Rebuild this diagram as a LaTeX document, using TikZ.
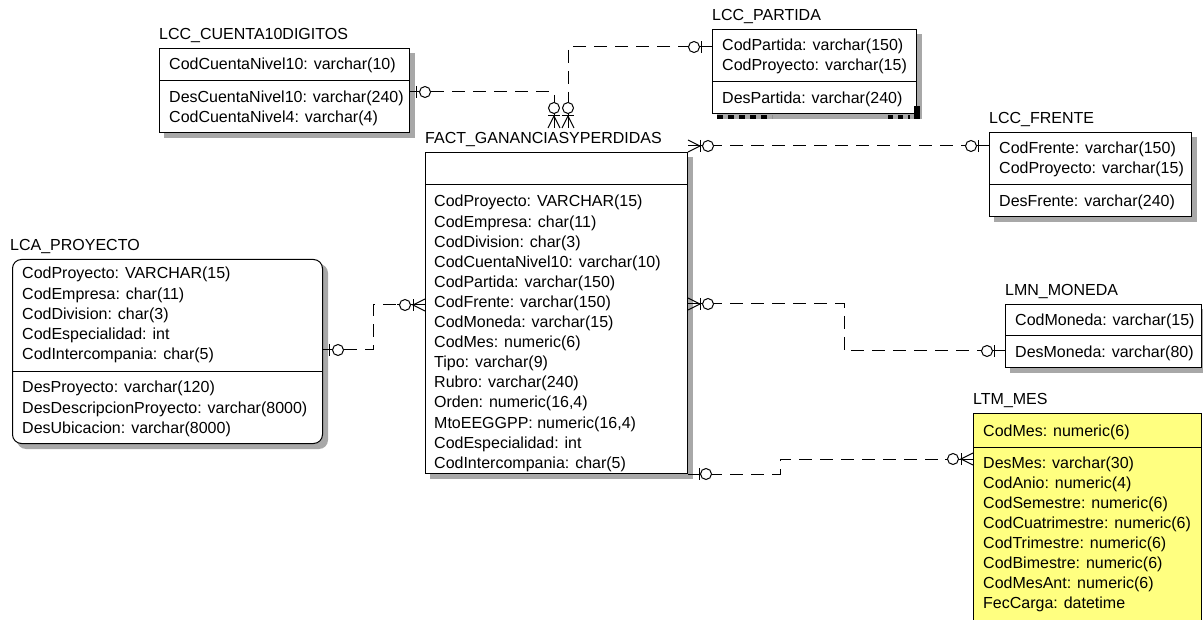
\documentclass[tikz,border=0pt]{standalone}
\usepackage{fontspec}
\usetikzlibrary{calc,backgrounds}
\newfontfamily\erfam{Liberation Sans}
\newcommand\erfont{\erfam\fontsize{16}{18}\selectfont}
\definecolor{mesyellow}{RGB}{255,255,128}
\definecolor{shadowgray}{RGB}{168,168,168}
\tikzset{
  ent/.style={draw=black, line width=1pt, fill=white, inner sep=0pt, anchor=north west},
  entplain/.style={draw=black, line width=1pt, inner sep=0pt, anchor=north west},
  shadowbox/.style={fill=shadowgray},
  txt/.style={anchor=base west, inner sep=0pt, font=\erfont, text=black},
  ttl/.style={anchor=base west, inner sep=0pt, font=\erfont, text=black},
  divider/.style={line width=1pt},
  conn/.style={line width=1pt, dash pattern=on 13pt off 8pt},
  pics/onezero/.style={code={
    \draw[line width=1pt, solid] (0,0) -- (27,0);
    \draw[line width=1pt, solid] (11,-6) -- (11,6);
    \draw[line width=1pt, solid, fill=white] (18,0) circle[radius=5.5pt];
  }},
  pics/onezeronear/.style={code={
    \draw[line width=1pt, solid] (0,0) -- (24,0);
    \draw[line width=1pt, solid] (6,-6) -- (6,6);
    \draw[line width=1pt, solid, fill=white] (15,0) circle[radius=5.5pt];
  }},
  pics/manyzero/.style={code={
    \draw[line width=1pt, solid] (0,0) -- (28,0);
    \draw[line width=1pt, solid] (0,-6) -- (12,0) -- (0,6);
    \draw[line width=1pt, solid] (12,-6) -- (12,6);
    \draw[line width=1pt, solid, fill=white] (20,0) circle[radius=5.5pt];
  }}
}
\begin{document}
\begin{tikzpicture}[x=1pt,y=-1pt]
\useasboundingbox (0,0) rectangle (1203,620);

% ---------------- LCC_CUENTA10DIGITOS
\node[ent, minimum width=250pt, minimum height=84pt] (cuenta) at (159,48) {};
\draw[divider] ($(cuenta.north west)+(0,33)$) -- ($(cuenta.north east)+(0,33)$);
\node[ttl] (cuenta-t) at ($(cuenta.north west)+(0,-8)$) {LCC\_CUENTA10DIGITOS};
\node[txt] (cuenta-1) at ($(cuenta.north west)+(10,22)$) {CodCuentaNivel10: varchar(10)};
\node[txt] (cuenta-2) at ($(cuenta.north west)+(10,55)$) {DesCuentaNivel10: varchar(240)};
\node[txt] (cuenta-3) at ($(cuenta.north west)+(10,75)$) {CodCuentaNivel4: varchar(4)};

% ---------------- LCC_PARTIDA
\node[ent, minimum width=204pt, minimum height=84pt] (partida) at (712,29) {};
\draw[divider] ($(partida.north west)+(0,53)$) -- ($(partida.north east)+(0,53)$);
\node[ttl] (partida-t) at ($(partida.north west)+(0,-8)$) {LCC\_PARTIDA};
\node[txt] (partida-1) at ($(partida.north west)+(10,22)$) {CodPartida: varchar(150)};
\node[txt] (partida-2) at ($(partida.north west)+(10,42)$) {CodProyecto: varchar(15)};
\node[txt] (partida-3) at ($(partida.north west)+(10,75)$) {DesPartida: varchar(240)};
\draw[line width=4pt, dash pattern=on 6pt off 5pt] (717,117) -- (772,117);
\draw[line width=4pt, dash pattern=on 5pt off 5pt] (888,117) -- (910,117);
\fill (914,106) rectangle (920,119);

% ---------------- LCC_FRENTE
\node[ent, minimum width=202pt, minimum height=84pt] (frente) at (989,132) {};
\draw[divider] ($(frente.north west)+(0,53)$) -- ($(frente.north east)+(0,53)$);
\node[ttl] (frente-t) at ($(frente.north west)+(0,-8)$) {LCC\_FRENTE};
\node[txt] (frente-1) at ($(frente.north west)+(10,22)$) {CodFrente: varchar(150)};
\node[txt] (frente-2) at ($(frente.north west)+(10,42)$) {CodProyecto: varchar(15)};
\node[txt] (frente-3) at ($(frente.north west)+(10,75)$) {DesFrente: varchar(240)};

% ---------------- LCA_PROYECTO
\node[ent, rounded corners=9pt, minimum width=310pt, minimum height=184pt] (proyecto) at (12,259) {};
\draw[divider] ($(proyecto.north west)+(0,113)$) -- ($(proyecto.north east)+(0,113)$);
\node[ttl] (proyecto-t) at ($(proyecto.north west)+(-2,-8)$) {LCA\_PROYECTO};
\foreach \t [count=\i from 0] in {CodProyecto: VARCHAR(15), CodEmpresa: char(11), CodDivision: char(3), CodEspecialidad: int, CodIntercompania: char(5)}
  \node[txt] (proyecto-a\i) at ($(proyecto.north west)+(10,20+20.2*\i)$) {\t};
\foreach \t [count=\i from 0] in {DesProyecto: varchar(120), DesDescripcionProyecto: varchar(8000), DesUbicacion: varchar(8000)}
  \node[txt] (proyecto-b\i) at ($(proyecto.north west)+(10,134+20.2*\i)$) {\t};

% ---------------- FACT_GANANCIASYPERDIDAS
\node[ent, minimum width=262pt, minimum height=321pt] (fact) at (425,152) {};
\draw[divider] ($(fact.north west)+(0,33)$) -- ($(fact.north east)+(0,33)$);
\node[ttl] (fact-t) at ($(fact.north west)+(0,-8)$) {FACT\_GANANCIASYPERDIDAS};
\foreach \t [count=\i from 0] in {CodProyecto: VARCHAR(15), CodEmpresa: char(11), CodDivision: char(3),
  CodCuentaNivel10: varchar(10), CodPartida: varchar(150), CodFrente: varchar(150), CodMoneda: varchar(15),
  CodMes: numeric(6), Tipo: varchar(9), Rubro: varchar(240), {Orden: numeric(16,4)}, {MtoEEGGPP: numeric(16,4)},
  CodEspecialidad: int, CodIntercompania: char(5)}
  \node[txt] (fact-r\i) at ($(fact.north west)+(9,55+20.1*\i)$) {\t};

% ---------------- LMN_MONEDA
\node[ent, minimum width=196pt, minimum height=63pt] (moneda) at (1005,304) {};
\draw[divider] ($(moneda.north west)+(0,32)$) -- ($(moneda.north east)+(0,32)$);
\node[ttl] (moneda-t) at ($(moneda.north west)+(0,-8)$) {LMN\_MONEDA};
\node[txt] (moneda-1) at ($(moneda.north west)+(10,22)$) {CodMoneda: varchar(15)};
\node[txt] (moneda-2) at ($(moneda.north west)+(10,54)$) {DesMoneda: varchar(80)};

% ---------------- LTM_MES
\node[entplain, fill=mesyellow, minimum width=228pt, minimum height=210pt] (mes) at (973,413) {};
\draw[divider] ($(mes.north west)+(0,34)$) -- ($(mes.north east)+(0,34)$);
\node[ttl] (mes-t) at ($(mes.north west)+(0,-8)$) {LTM\_MES};
\node[txt] (mes-0) at ($(mes.north west)+(10,23)$) {CodMes: numeric(6)};
\foreach \t [count=\i from 0] in {DesMes: varchar(30), CodAnio: numeric(4), CodSemestre: numeric(6),
  CodCuatrimestre: numeric(6), CodTrimestre: numeric(6), CodBimestre: numeric(6), CodMesAnt: numeric(6),
  FecCarga: datetime}
  \node[txt] (mes-r\i) at ($(mes.north west)+(10,55+20.1*\i)$) {\t};

% ---------------- shadows (behind the boxes)
\begin{pgfonlayer}{background}
  \fill[white] (0,0) rectangle (1203,620);
  \fill[shadowbox] ($(cuenta.north west)+(5,5)$) rectangle ($(cuenta.south east)+(5,5)$);
  \fill[shadowbox] ($(partida.north west)+(5,5)$) rectangle ($(partida.south east)+(5,5)$);
  \fill[shadowbox] ($(frente.north west)+(5,5)$) rectangle ($(frente.south east)+(5,5)$);
  \fill[shadowbox, rounded corners=9pt] ($(proyecto.north west)+(5,5)$) rectangle ($(proyecto.south east)+(5,5)$);
  \fill[shadowbox] ($(fact.north west)+(5,5)$) rectangle ($(fact.south east)+(5,5)$);
  \fill[shadowbox] ($(moneda.north west)+(5,5)$) rectangle ($(moneda.south east)+(5,5)$);
\end{pgfonlayer}

% ---------------- connector end points
\coordinate (c1a) at ($(cuenta.north east)+(0,44)$);
\coordinate (c1b) at ($(fact.north west)+(129,-24)$);
\coordinate (c2a) at ($(partida.north west)+(0,18)$);
\coordinate (c2b) at ($(fact.north west)+(143,-24)$);
\coordinate (c3a) at ($(fact.north east)+(0,-6)$);
\coordinate (c3b) at (frente.west |- c3a);
\coordinate (c4a) at ($(proyecto.north east)+(0,91)$);
\coordinate (c4b) at ($(fact.north west)+(0,153)$);
\coordinate (c5a) at ($(fact.north east)+(0,152)$);
\coordinate (c5b) at ($(moneda.north west)+(0,47)$);
\coordinate (c6a) at ($(fact.south east)+(0,0)$);
\coordinate (c6b) at ($(mes.north west)+(0,46)$);

% ---------------- connectors
\draw[conn] (c1a) -| (c1b);
\draw[conn] (c2a) -| (c2b);
\draw[conn] (c3a) -- (c3b);
\draw[conn] (c4a) -- ++(50,0) |- (c4b);
\draw[conn] (c5a) -- ++(156,0) |- (c5b);
\draw[conn] (c6a) -- ++(92,0) |- (c6b);

% ---------------- markers
\pic at (c1a) {onezeronear};
\pic[rotate=90] at (c1b) {manyzero};
\pic[rotate=180] at (c2a) {onezero};
\pic[rotate=90] at (c2b) {manyzero};
\pic at (c3a) {manyzero};
\pic[rotate=180] at (c3b) {onezero};
\pic at (c4a) {onezeronear};
\pic[rotate=180] at (c4b) {manyzero};
\pic at (c5a) {manyzero};
\pic[rotate=180] at (c5b) {onezero};
\pic at (c6a) {onezero};
\pic[rotate=180] at (c6b) {manyzero};
\end{tikzpicture}
\end{document}
